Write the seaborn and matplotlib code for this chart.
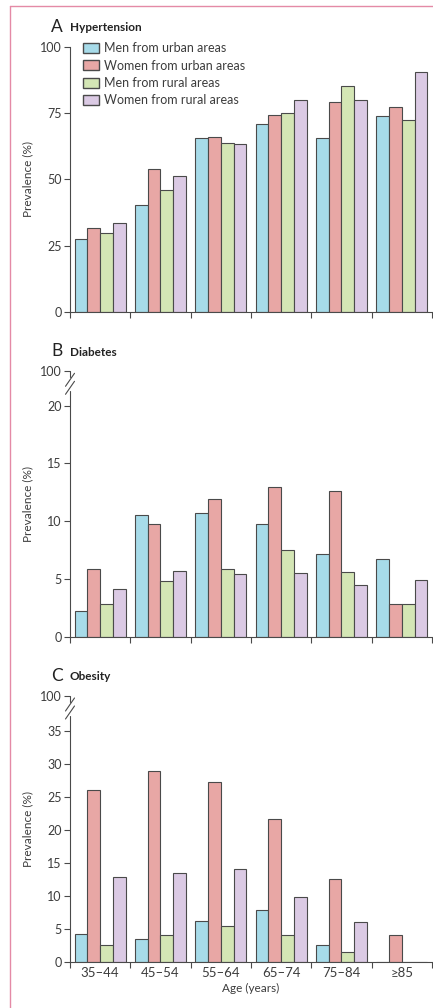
import numpy as np
import pandas as pd
import matplotlib
matplotlib.use("Agg")
import matplotlib.pyplot as plt
from matplotlib.lines import Line2D
from matplotlib.patches import Patch
import seaborn as sns

# ---- data -------------------------------------------------------------
age_groups = ["35\u201344", "45\u201354", "55\u201364", "65\u201374", "75\u201384", "\u226585"]
groups = ["Men from urban areas", "Women from urban areas",
          "Men from rural areas", "Women from rural areas"]

hypertension_men_urban = [27.5, 40.4, 65.5, 71.0, 65.6, 73.9]
hypertension_women_urban = [31.6, 53.8, 66.1, 74.3, 79.3, 77.2]
hypertension_men_rural = [29.9, 45.8, 63.7, 75.0, 85.2, 72.4]
hypertension_women_rural = [33.5, 51.3, 63.5, 79.8, 79.8, 90.6]

diabetes_men_urban = [2.2, 10.5, 10.7, 9.8, 7.2, 6.7]
diabetes_women_urban = [5.9, 9.8, 11.9, 13.0, 12.6, 2.8]
diabetes_men_rural = [2.8, 4.8, 5.9, 7.5, 5.6, 2.8]
diabetes_women_rural = [4.1, 5.7, 5.4, 5.5, 4.5, 4.9]

obesity_men_urban = [4.2, 3.4, 6.1, 7.8, 2.6, 0.0]
obesity_women_urban = [26.0, 28.9, 27.2, 21.7, 12.5, 4.0]
obesity_men_rural = [2.5, 4.0, 5.4, 4.0, 1.4, 0.0]
obesity_women_rural = [12.8, 13.4, 14.1, 9.8, 6.0, 0.0]

palette = ["#a7dbe9", "#e8a7a5", "#d4e6b5", "#dbcae4"]
edge = "#4a4a4a"
text_color = "#3c3c3c"


def long_table(series):
    rows = []
    for name, vals in zip(groups, series):
        for age, v in zip(age_groups, vals):
            rows.append({"age": age, "group": name, "value": v})
    return pd.DataFrame(rows)


panels = [
    ("A", "Hypertension",
     [hypertension_men_urban, hypertension_women_urban,
      hypertension_men_rural, hypertension_women_rural],
     [0, 25, 50, 75, 100], None),
    ("B", "Diabetes",
     [diabetes_men_urban, diabetes_women_urban,
      diabetes_men_rural, diabetes_women_rural],
     [0, 5, 10, 15, 20], 22.98),
    ("C", "Obesity",
     [obesity_men_urban, obesity_women_urban,
      obesity_men_rural, obesity_women_rural],
     [0, 5, 10, 15, 20, 25, 30, 35], 40.3),
]

# ---- figure -----------------------------------------------------------
sns.set_theme(style="white")
plt.rcParams["font.family"] = ["Lato", "DejaVu Sans"]

W, H = 433, 1008
fig = plt.figure(figsize=(W / 100, H / 100), dpi=100)

axes_px = [(46.7, 312.0), (371.3, 636.7), (696.0, 961.7)]
left_px, right_px = 70, 432

for (letter, title, series, ticks, top), (ytop, ybot) in zip(panels, axes_px):
    ax = fig.add_axes([left_px / W, 1 - ybot / H,
                       (right_px - left_px) / W, (ybot - ytop) / H])
    df = long_table(series)
    sns.barplot(data=df, x="age", y="value", hue="group", hue_order=groups,
                order=age_groups, palette=palette, width=0.85,
                edgecolor=edge, linewidth=0.8, saturation=1,
                errorbar=None, legend=False, ax=ax)

    ax.set_xlim(-0.5, len(age_groups) - 0.5)
    ymax = ticks[-1] if top is None else top
    ax.set_ylim(0, ymax)

    # y ticks; broken axes carry an extra "100" at the top
    yt = list(ticks)
    yl = [str(t) for t in ticks]
    if top is not None:
        yt.append(top)
        yl.append("100")
    ax.set_yticks(yt)
    ax.set_yticklabels(yl)

    # group boundary ticks on x, labels at the group centres
    ax.set_xticks(np.arange(-0.5, len(age_groups)), minor=False)
    ax.set_xticklabels([])
    ax.set_xticks(np.arange(len(age_groups)), minor=True)
    if letter == "C":
        ax.set_xticklabels(age_groups, minor=True)
        ax.set_xlabel("Age (years)", fontsize=8.5, color=text_color, labelpad=3)
    else:
        ax.set_xticklabels([], minor=True)
        ax.set_xlabel("")
    ax.tick_params(axis="x", which="major", direction="out", length=4,
                   width=0.8, color=edge, bottom=True)
    ax.tick_params(axis="x", which="minor", length=0, pad=4,
                   labelsize=9.5, labelcolor=text_color, bottom=True)
    ax.tick_params(axis="y", direction="out", length=4, width=0.8,
                   color=edge, labelsize=9, labelcolor=text_color,
                   left=True, pad=2)

    ax.set_ylabel("Prevalence (%)", fontsize=8.5, color=text_color, labelpad=5)

    for s in ["top", "right"]:
        ax.spines[s].set_visible(False)
    ax.spines["bottom"].set_color(edge)
    ax.spines["bottom"].set_linewidth(0.8)
    ax.spines["left"].set_color(edge)
    ax.spines["left"].set_linewidth(0.8)

    if top is not None:
        # broken y axis: short top segment, two slashes, main spine below
        ax.spines["left"].set_visible(False)
        hpx = ybot - ytop
        f = lambda px: 1 - px / hpx
        tr = ax.transAxes
        kw = dict(transform=tr, color=edge, lw=0.8, clip_on=False)
        ax.add_line(Line2D([0, 0], [f(0), f(6)], **kw))
        ax.add_line(Line2D([0, 0], [0, f(20)], **kw))
        wpx = right_px - left_px
        for c in (8.5, 16.5):
            ax.add_line(Line2D([-4.5 / wpx, 4.5 / wpx],
                               [f(c + 6.5), f(c - 6.5)], **kw))

    # panel title
    fig.text(51 / W, 1 - (ytop - 20) / H, letter, fontsize=12.5,
             color="#222222", va="center", ha="left")
    fig.text(70 / W, 1 - (ytop - 19) / H, title, fontsize=8.5,
             fontweight="bold", color="#222222", va="center", ha="left")

    if letter == "A":
        handles = [Patch(facecolor=c, edgecolor=edge, linewidth=1.0)
                   for c in palette]
        ax.legend(handles, groups, loc="upper left",
                  bbox_to_anchor=(0.022, 1.035), frameon=False,
                  fontsize=9, labelcolor=text_color,
                  handlelength=1.3, handleheight=0.85, handletextpad=0.4,
                  labelspacing=0.42, borderaxespad=0)

# pink frame along the top and left edges
fig.add_artist(Line2D([10 / W, 1], [1 - 6 / H, 1 - 6 / H],
                      transform=fig.transFigure, color="#e48aa6", lw=1.0))
fig.add_artist(Line2D([10 / W, 10 / W], [0, 1 - 6 / H],
                      transform=fig.transFigure, color="#e48aa6", lw=1.0))

fig.savefig("out.png", dpi=100)
